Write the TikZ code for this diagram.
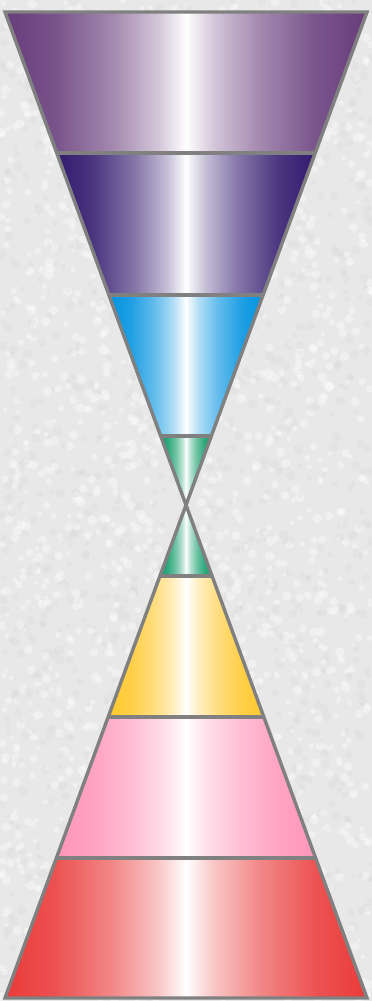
\documentclass[tikz,border=0pt]{standalone}
\usetikzlibrary{calc}
\definecolor{cA}{RGB}{103,60,123}
\definecolor{cB}{RGB}{50,26,110}
\definecolor{cC}{RGB}{0,146,224}
\definecolor{cD}{RGB}{18,156,106}
\definecolor{cE}{RGB}{255,200,45}
\definecolor{cF}{RGB}{255,150,185}
\definecolor{cG}{RGB}{234,58,58}
\definecolor{bg}{RGB}{232,232,232}
\definecolor{edge}{RGB}{128,128,128}
\newcommand\mkband[2]{%
  \colorlet{tmpA}{#2}\colorlet{tmpB}{#2!88!white}\colorlet{tmpC}{#2!60!white}\colorlet{tmpD}{#2!30!white}\colorlet{tmpE}{#2!8!white}%
  \pgfdeclarehorizontalshading{#1}{100bp}{color(0bp)=(tmpA); color(25bp)=(tmpA); color(32bp)=(tmpB); color(40bp)=(tmpC); color(46bp)=(tmpD); color(49bp)=(tmpE); color(50bp)=(white); color(51bp)=(tmpE); color(54bp)=(tmpD); color(60bp)=(tmpC); color(68bp)=(tmpB); color(75bp)=(tmpA); color(100bp)=(tmpA)}}
\mkband{shA}{cA}
\mkband{shB}{cB}
\mkband{shC}{cC}
\mkband{shD}{cD}
\mkband{shE}{cE}
\mkband{shF}{cF}
\mkband{shG}{cG}
\tikzset{
  outline/.style={draw=edge, line width=3.4pt, line join=miter},
  divider/.style={draw=edge, line width=3.4pt},
}
\begin{document}
\begin{tikzpicture}[x=1pt,y=-1pt]
\useasboundingbox (0,0) rectangle (372,1001);
\fill[bg] (0,0) rectangle (372,1001);
\pgfmathsetseed{11}
\foreach \i in {1,...,3000}{
  \pgfmathsetmacro\xx{372*rnd}
  \pgfmathsetmacro\yy{1001*rnd}
  \pgfmathsetmacro\rr{2+3*rnd}
  \pgfmathtruncatemacro\gg{rnd<0.55 ? 0 : 1}
  \ifnum\gg=0
    \fill[white, opacity=0.35] (\xx,\yy) circle (\rr);
  \else
    \fill[black!15, opacity=0.3] (\xx,\yy) circle (\rr);
  \fi
}
% key coordinates
\coordinate (TL) at (5,12);
\coordinate (TR) at (367,12);
\coordinate (M) at (186,505);
\coordinate (BL) at (5,998);
\coordinate (BR) at (367,998);
\coordinate (L1) at (56.8,153);  \coordinate (R1) at (315.2,153);
\coordinate (L2) at (108.9,295); \coordinate (R2) at (263.1,295);
\coordinate (L3) at (160.6,436); \coordinate (R3) at (211.4,436);
\coordinate (L4) at (160.2,576); \coordinate (R4) at (211.8,576);
\coordinate (L5) at (108.4,717); \coordinate (R5) at (263.6,717);
\coordinate (L6) at (56.5,858);  \coordinate (R6) at (315.5,858);
% bands
\shade[shading=shA] (TL) -- (TR) -- (R1) -- (L1) -- cycle;
\shade[shading=shB] (L1) -- (R1) -- (R2) -- (L2) -- cycle;
\shade[shading=shC] (L2) -- (R2) -- (R3) -- (L3) -- cycle;
\shade[shading=shD] (L3) -- (R3) -- (M) -- cycle;
\shade[shading=shD] (M) -- (R4) -- (L4) -- cycle;
\shade[shading=shE] (L4) -- (R4) -- (R5) -- (L5) -- cycle;
\shade[shading=shF] (L5) -- (R5) -- (R6) -- (L6) -- cycle;
\shade[shading=shG] (L6) -- (R6) -- (BR) -- (BL) -- cycle;
% dividers
\draw[divider] (L1) -- (R1);
\draw[divider] (L2) -- (R2);
\draw[divider] (L3) -- (R3);
\draw[divider] (L4) -- (R4);
\draw[divider] (L5) -- (R5);
\draw[divider] (L6) -- (R6);
% outlines
\draw[outline] (TL) -- (TR) -- (M) -- cycle;
\draw[outline] (M) -- (BR) -- (BL) -- cycle;
\end{tikzpicture}
\end{document}
